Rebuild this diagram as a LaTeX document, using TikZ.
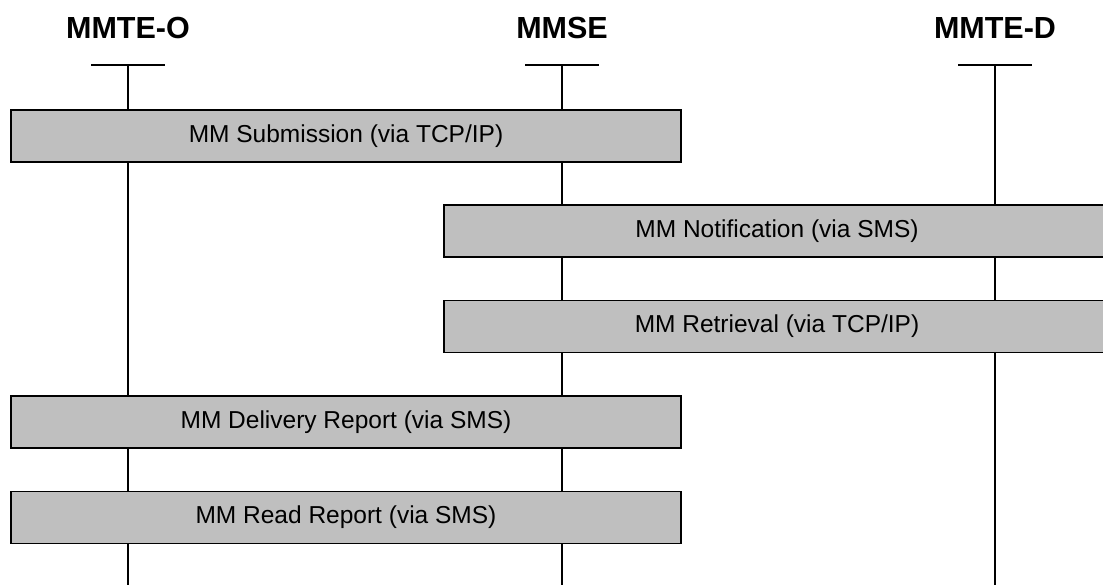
\documentclass[tikz,border=0pt]{standalone}
\usepackage{fontspec}
\setmainfont{Liberation Sans}
\usetikzlibrary{positioning}

\begin{document}
\begin{tikzpicture}[x=1pt, y=-1pt]
    \tikzstyle{every node} = [inner sep=0pt]
    \tikzstyle{entity} = [font=\fontsize{30.5}{33}\selectfont\bfseries]
    \tikzstyle{msgbox} = [draw, line width=1.6pt, fill=black!25, minimum height=52pt,
                          font=\fontsize{24.5}{27}\selectfont]
    \useasboundingbox (0, 0) rectangle (1103, 584);

    % lifelines
    \foreach \name/\label/\x in {o/MMTE-O/128, s/MMSE/562, d/MMTE-D/995} {
      \node [entity] (\name) at (\x, 28) {\label};
      \coordinate (\name top) at (\x, 65);
      \coordinate (\name bot) at (\x, 590);
      \draw [line width=1.6pt] (\x-37, 65) -- (\x+37, 65);
      \draw [line width=1.6pt] (\name top) -- (\name bot);
    }

    % exchanges
    \node [msgbox, minimum width=670pt] (submit) at (346, 136) {MM Submission (via TCP/IP)};
    \node [msgbox, minimum width=666pt] (notify) at (777, 231) {MM Notification (via SMS)};
    \node [msgbox, minimum width=666pt] (fetch)  at (777, 326.5) {MM Retrieval (via TCP/IP)};
    \node [msgbox, minimum width=670pt] (deliv)  at (346, 422) {MM Delivery Report (via SMS)};
    \node [msgbox, minimum width=670pt] (read)   at (346, 517.5) {MM Read Report (via SMS)};
\end{tikzpicture}
\end{document}
